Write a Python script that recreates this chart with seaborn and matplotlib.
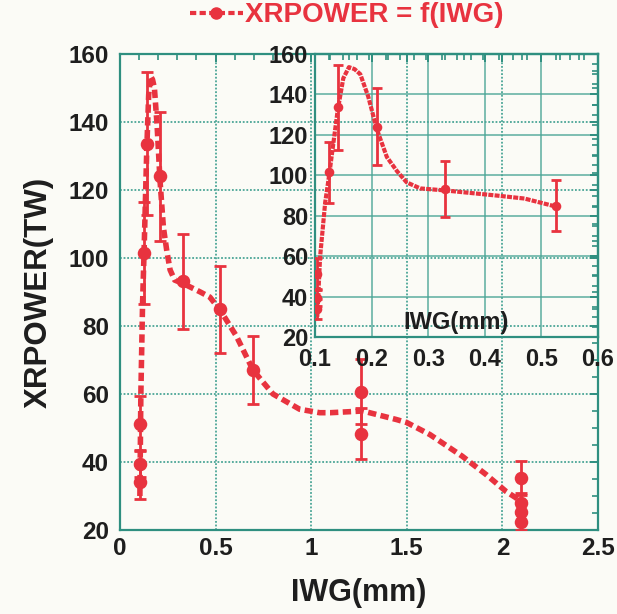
import matplotlib
matplotlib.use("Agg")
import matplotlib.pyplot as plt
from matplotlib.ticker import MultipleLocator, AutoMinorLocator
from matplotlib.lines import Line2D
import seaborn as sns
import pandas as pd

# ---- data ----
pt_x = [0.104, 0.104, 0.104, 0.125, 0.140, 0.209, 0.330, 0.525, 0.697, 1.262, 1.262, 2.098, 2.098, 2.098, 2.098]
pt_y = [34.0, 39.5, 51.3, 101.5, 133.6, 124.0, 93.2, 84.9, 67.0, 60.7, 48.3, 35.3, 27.9, 25.4, 22.5]
pt_err = [5.0, 4.0, 8.0, 15.0, 21.0, 19.0, 14.0, 12.7, 10.0, 9.5, 7.5, 5.0, 3.0, 3.0, 2.5]

curve_x = [0.104, 0.109, 0.118, 0.125, 0.140, 0.150, 0.160, 0.170, 0.180, 0.194, 0.209, 0.227,
           0.245, 0.262, 0.286, 0.330, 0.420, 0.470, 0.526, 0.609, 0.696, 0.800, 0.940, 1.044,
           1.100, 1.270, 1.445, 1.500, 1.620, 1.790, 1.915, 2.020, 2.070, 2.100]
curve_y = [30.0, 59.6, 86.6, 100.0, 132.0, 148.0, 153.5, 152.5, 150.0, 139.0, 123.0, 109.0,
           102.0, 96.5, 93.5, 92.5, 90.0, 88.5, 84.5, 77.0, 67.0, 60.0, 55.5, 54.5,
           54.5, 55.0, 52.5, 51.6, 48.1, 41.7, 36.3, 31.3, 29.5, 28.0]

main_xticks = [0, 0.5, 1, 1.5, 2, 2.5]
main_xticklabels = ["0", "0.5", "1", "1.5", "2", "2.5"]
main_yticks = [20, 40, 60, 80, 100, 120, 140, 160]
inset_xticks = [0.1, 0.2, 0.3, 0.4, 0.5, 0.6]
inset_xticklabels = ["0.1", "0.2", "0.3", "0.4", "0.5", "0.6"]
inset_yticks = [20, 40, 60, 80, 100, 120, 140, 160]

series_label = "XRPOWER = f(IWG)"
x_label = "IWG(mm)"
y_label = "XRPOWER(TW)"

pts = pd.DataFrame({"x": pt_x, "y": pt_y, "err": pt_err})
crv = pd.DataFrame({"x": curve_x, "y": curve_y})

# ---- styling ----
sns.set_theme(style="white")
plt.rcParams["font.family"] = ["Liberation Sans", "DejaVu Sans"]
plt.rcParams["font.weight"] = "bold"

RED = "#e8333f"
FRAME = "#2f8f80"
GRID = "#4aa596"
TXT = "#1e1e1e"

fig = plt.figure(figsize=(6.17, 6.14), dpi=100)
fig.patch.set_facecolor("#fbfbf6")

ax = fig.add_axes([120 / 617, 1 - 530 / 614, 478 / 617, 476 / 614])
ax.set_facecolor("none")


def style_axes(a, fs):
    for s in a.spines.values():
        s.set_color(FRAME)
        s.set_linewidth(1.6)
    a.tick_params(which="both", direction="in", color=FRAME, top=True, right=True,
                  labelsize=fs, labelcolor=TXT)
    a.tick_params(which="major", length=6, width=1.4)
    a.tick_params(which="minor", length=4, width=1.2)
    a.grid(True, which="major", color=GRID, linestyle=(0, (1, 1)), linewidth=1.3)
    for lab in a.get_xticklabels() + a.get_yticklabels():
        lab.set_fontweight("bold")


# main curve (dashed)
sns.lineplot(data=crv, x="x", y="y", ax=ax, color=RED, linewidth=4,
             linestyle=(0, (1.5, 0.8)), sort=False, estimator=None)
ax.errorbar(pts["x"], pts["y"], yerr=pts["err"], fmt="none", ecolor=RED,
            elinewidth=2, capsize=4, capthick=2, zorder=3)
sns.scatterplot(data=pts, x="x", y="y", ax=ax, color=RED, s=95, edgecolor=RED,
                linewidth=0, zorder=4)

ax.set_xlim(0, 2.5)
ax.set_ylim(20, 160)
ax.set_xticks(main_xticks)
ax.set_xticklabels(main_xticklabels)
ax.set_yticks(main_yticks)
ax.xaxis.set_minor_locator(MultipleLocator(0.1))
ax.yaxis.set_minor_locator(MultipleLocator(5))
style_axes(ax, 17.5)
ax.tick_params(axis="y", pad=8)
ax.tick_params(axis="x", pad=5)
ax.set_xlabel(x_label, fontsize=22, fontweight="bold", color=TXT, labelpad=13)
ax.set_ylabel(y_label, fontsize=22.5, fontweight="bold", color=TXT, labelpad=11)

# legend above
handle = Line2D([0], [0], color=RED, linewidth=3, linestyle=(0, (1.5, 0.8)),
                marker="o", markersize=8)
leg = fig.legend([handle], [series_label], loc="center", bbox_to_anchor=(0.562, 0.975),
                 frameon=False, fontsize=20, handlelength=1.9, handletextpad=0.1)
for t in leg.get_texts():
    t.set_color(RED)
    t.set_fontweight("bold")

# inset
ins = fig.add_axes([315 / 617, 1 - 337 / 614, 283 / 617, 283 / 614])
ins.set_facecolor("none")
crv_in = crv[crv["x"] <= 0.6]
pts_in = pts[pts["x"] <= 0.6]
sns.lineplot(data=crv_in, x="x", y="y", ax=ins, color=RED, linewidth=3,
             linestyle=(0, (1.2, 0.3)), sort=False, estimator=None)
ins.errorbar(pts_in["x"], pts_in["y"], yerr=pts_in["err"], fmt="none", ecolor=RED,
             elinewidth=2, capsize=3.5, capthick=2, zorder=3)
sns.scatterplot(data=pts_in, x="x", y="y", ax=ins, color=RED, s=48, edgecolor=RED,
                linewidth=0, zorder=4)
ins.set_xlim(0.1, 0.6)
ins.set_ylim(20, 160)
ins.set_xticks(inset_xticks)
ins.set_xticklabels(inset_xticklabels)
ins.set_yticks(inset_yticks)
ins.xaxis.set_minor_locator(AutoMinorLocator(4))
ins.yaxis.set_minor_locator(MultipleLocator(5))
style_axes(ins, 17)
ins.grid(True, which="major", color=GRID, linestyle="-", linewidth=1.1, alpha=0.9)
ins.tick_params(axis="y", pad=5)
ins.tick_params(axis="x", pad=8)
for lab in ins.get_yticklabels():
    lab.set_verticalalignment("center_baseline")
ins.set_xlabel("")
ins.set_ylabel("")
ins.text(0.5, 0.05, x_label, transform=ins.transAxes, ha="center", va="center",
         fontsize=17, fontweight="bold", color=TXT)

fig.savefig("out.png", dpi=100, facecolor=fig.get_facecolor())
